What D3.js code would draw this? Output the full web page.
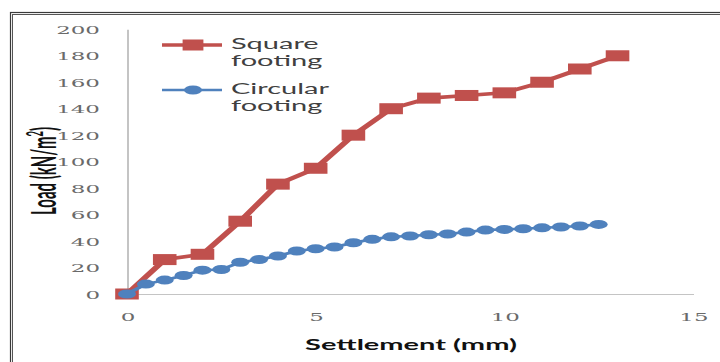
<!DOCTYPE html>
<html>
<head>
<meta charset="utf-8">
<script src="https://cdn.jsdelivr.net/npm/d3@7"></script>
<style>
  html, body { margin: 0; padding: 0; background: #fff; }
  svg { display: block; }
</style>
</head>
<body>
<svg id="chart" width="720" height="362"></svg>
<script>
// Load–settlement data for the two footings
const settlementSquare = [0, 1, 2, 3, 4, 5, 6, 7, 8, 9, 10, 11, 12, 13];
const loadSquare       = [0, 26, 30, 55, 83, 95, 120, 140, 148, 150, 152, 160, 170, 180];

const settlementCircular = [0, 0.5, 1, 1.5, 2, 2.5, 3, 3.5, 4, 4.5, 5, 5.5, 6, 6.5,
                            7, 7.5, 8, 8.5, 9, 9.5, 10, 10.5, 11, 11.5, 12, 12.5];
const loadCircular       = [0, 7.5, 10.5, 14, 18, 18.5, 24, 26, 28.7, 32.5, 34.2, 35.5, 38.7, 41.3,
                            43.2, 43.8, 44.8, 45.3, 46.8, 48.3, 48.8, 49.3, 50, 50.6, 51.4, 52.6];

const xTicks = [0, 5, 10, 15];
const yTicks = [0, 20, 40, 60, 80, 100, 120, 140, 160, 180, 200];

const seriesNames = [["Square", "footing"], ["Circular", "footing"]];
const RED = "#C0504D", BLUE = "#4F81BD";

const svg = d3.select("#chart");

// outer double frame
svg.append("rect").attr("x", 10.5).attr("y", 12.5).attr("width", 800).attr("height", 400)
  .attr("fill", "none").attr("stroke", "#3a3a3a").attr("stroke-width", 1.2);
svg.append("rect").attr("x", 12.5).attr("y", 14.5).attr("width", 800).attr("height", 400)
  .attr("fill", "none").attr("stroke", "#555").attr("stroke-width", 1);

// the chart is laid out in half-width units and stretched horizontally
const SX = 2;
const g = svg.append("g").attr("transform", `scale(${SX},1)`);

const x = d3.scaleLinear().domain([0, 15]).range([127 / SX, 693 / SX]);
const y = d3.scaleLinear().domain([0, 200]).range([294, 29.3]);

const axisColor = "#c4c4c4";
const tickFont = "'DejaVu Serif', serif";

// y axis
const yAxis = g.append("g").attr("transform", `translate(${x(0)},0)`)
  .call(d3.axisLeft(y).tickValues(yTicks).tickSize(0).tickSizeOuter(0).tickPadding(13.5));
yAxis.select(".domain").attr("stroke", axisColor).attr("stroke-width", 1);
yAxis.selectAll("text").attr("font-family", tickFont).attr("font-size", 11.5)
  .attr("fill", "#6a6a6a").attr("dy", "0.36em");

// x axis
const xAxis = g.append("g").attr("transform", `translate(0,${y(0)})`)
  .call(d3.axisBottom(x).tickValues(xTicks).tickFormat(d3.format("d")).tickSize(0).tickSizeOuter(0).tickPadding(19));
xAxis.select(".domain").attr("stroke", axisColor).attr("stroke-width", 1);
xAxis.selectAll("text").attr("font-family", tickFont).attr("font-size", 11.5).attr("fill", "#6a6a6a");

// series: square footing first, circular footing drawn over it
const sqData = settlementSquare.map((s, i) => [s, loadSquare[i]]);
const ciData = settlementCircular.map((s, i) => [s, loadCircular[i]]);
const line = d3.line().x(d => x(d[0])).y(d => y(d[1]));

g.append("path").datum(sqData).attr("d", line)
  .attr("fill", "none").attr("stroke", RED).attr("stroke-width", 3.6).attr("stroke-linejoin", "round");
const sqW = 11.8, sqH = 11;
g.selectAll("rect.sq").data(sqData).join("rect").attr("class", "sq")
  .attr("x", d => x(d[0]) - sqW / 2).attr("y", d => y(d[1]) - sqH / 2)
  .attr("width", sqW).attr("height", sqH).attr("fill", RED);

g.append("path").datum(ciData).attr("d", line)
  .attr("fill", "none").attr("stroke", BLUE).attr("stroke-width", 2.6).attr("stroke-linejoin", "round");
g.selectAll("circle.ci").data(ciData).join("circle").attr("class", "ci")
  .attr("cx", d => x(d[0])).attr("cy", d => y(d[1])).attr("r", 4.5).attr("fill", BLUE);

// legend
const legend = g.append("g");
const legendRows = [
  { color: RED, y: 45, marker: "square", text: seriesNames[0], base: [49.5, 66] },
  { color: BLUE, y: 90, marker: "circle", text: seriesNames[1], base: [94.5, 111] }
];
legendRows.forEach(r => {
  legend.append("line").attr("x1", 162 / SX).attr("x2", 222 / SX).attr("y1", r.y).attr("y2", r.y)
    .attr("stroke", r.color).attr("stroke-width", r.marker === "square" ? 3.4 : 2.6);
  if (r.marker === "square") {
    legend.append("rect").attr("x", 193 / SX - 5.2).attr("y", r.y - 5.5)
      .attr("width", 10.4).attr("height", 11).attr("fill", r.color);
  } else {
    legend.append("circle").attr("cx", 193 / SX).attr("cy", r.y).attr("r", 4.5).attr("fill", r.color);
  }
  r.text.forEach((t, i) => {
    legend.append("text").attr("x", 231 / SX).attr("y", r.base[i]).text(t)
      .attr("font-family", "Lato, 'Liberation Sans', sans-serif").attr("font-size", 14.5).attr("fill", "#404040");
  });
});

// x axis title
g.append("text").attr("x", 411 / SX).attr("y", 350).attr("text-anchor", "middle")
  .attr("font-family", "Lato, 'Liberation Sans', sans-serif").attr("font-weight", "bold")
  .attr("font-size", 14.5).attr("fill", "#111").text("Settlement (mm)");

// y axis title (condensed vertical label)
const yTitle = svg.append("text")
  .attr("transform", "translate(56,171) scale(2.3,1) rotate(-90)")
  .attr("text-anchor", "middle")
  .attr("font-family", "Lato, 'Liberation Sans', sans-serif").attr("font-weight", "bold")
  .attr("font-size", 15).attr("fill", "#111");
yTitle.append("tspan").text("Load (kN/m");
yTitle.append("tspan").attr("baseline-shift", "super").attr("font-size", 9.5).text("2");
yTitle.append("tspan").text(")");
</script>
</body>
</html>
